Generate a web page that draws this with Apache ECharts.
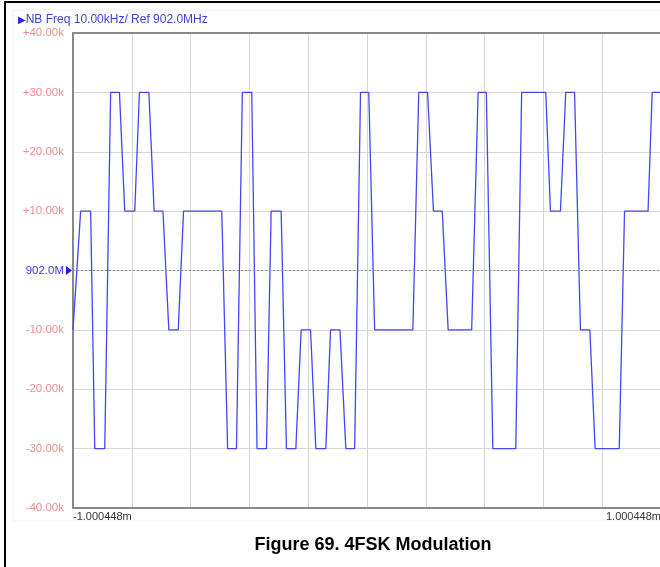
<!DOCTYPE html>
<html>
<head>
<meta charset="utf-8">
<script src="https://cdn.jsdelivr.net/npm/echarts@6/dist/echarts.min.js"></script>
<style>
  html, body { margin: 0; padding: 0; background: #fff; }
  #chart { width: 660px; height: 567px; }
</style>
</head>
<body>
<div id="chart"></div>
<script>
// time in screen divisions (0..10), freq offset in kHz
var timeDiv = [0, 0.03, 0.13, 0.30, 0.37, 0.54, 0.64, 0.79, 0.88, 1.05,
  1.13, 1.29, 1.38, 1.53, 1.63, 1.79, 1.88, 2.53, 2.63, 2.78,
  2.88, 3.04, 3.13, 3.29, 3.37, 3.54, 3.63, 3.79, 3.88, 4.04,
  4.13, 4.30, 4.38, 4.54, 4.64, 4.79, 4.89, 5.03, 5.13, 5.78,
  5.88, 6.03, 6.13, 6.28, 6.38, 6.78, 6.89, 7.03, 7.14, 7.53,
  7.63, 8.04, 8.12, 8.29, 8.38, 8.53, 8.63, 8.79, 8.88, 9.29,
  9.38, 9.78, 9.85, 10];
var freqK = [-10, -10, 10, 10, -30, -30, 30, 30, 10, 10,
  30, 30, 10, 10, -10, -10, 10, 10, -30, -30,
  30, 30, -30, -30, 10, 10, -30, -30, -10, -10,
  -30, -30, -10, -10, -30, -30, 30, 30, -10, -10,
  30, 30, 10, 10, -10, -10, 30, 30, -30, -30,
  30, 30, 10, 10, 30, 30, -10, -10, -30, -30,
  10, 10, 30, 30];

var yTickValues = [-40, -30, -20, -10, 0, 10, 20, 30, 40];
var yTickLabels = ['-40.00k', '-30.00k', '-20.00k', '-10.00k', '902.0M',
  '+10.00k', '+20.00k', '+30.00k', '+40.00k'];
var xTickLabels = ['-1.000448m', '1.000448m'];
var headerText = 'NB Freq 10.00kHz/ Ref 902.0MHz';
var captionText = 'Figure 69. 4FSK Modulation';

var chart = echarts.init(document.getElementById('chart'));

var pts = timeDiv.map(function (t, i) { return [t, freqK[i]]; });

var option = {
  animation: false,
  backgroundColor: '#fff',
  title: [{
    text: '{tri|▶}{t|' + headerText + '}',
    left: 13, top: 9,
    textStyle: {
      fontWeight: 'normal',
      rich: {
        tri: { fontFamily: 'DejaVu Sans', fontSize: 10, color: '#2a2ae0', fontWeight: 'normal' },
        t: { fontFamily: 'Liberation Sans', fontSize: 12, color: '#3a46d6', fontWeight: 'normal' }
      }
    }
  }, {
    text: captionText,
    left: 368, top: 531, textAlign: 'center',
    textStyle: { fontFamily: 'Liberation Sans', fontSize: 18, fontWeight: 'bold', color: '#000' }
  }],
  grid: { left: 73, top: 33, width: 588, height: 475, containLabel: false, outerBoundsMode: 'none' },
  xAxis: [{
    type: 'value', min: 0, max: 10, interval: 1,
    axisLine: { show: true, onZero: false, lineStyle: { color: '#888', width: 2 } },
    axisTick: { show: false },
    splitLine: { show: true, lineStyle: { color: '#d6d6d6', width: 1 } },
    axisLabel: {
      show: true, margin: 3, color: '#333',
      fontFamily: 'Liberation Sans', fontSize: 11,
      showMinLabel: true, showMaxLabel: true,
      alignMinLabel: 'left', alignMaxLabel: 'right',
      formatter: function (v) {
        if (v === 0) return xTickLabels[0];
        if (v === 10) return xTickLabels[1];
        return '';
      }
    }
  }, {
    type: 'value', position: 'top', min: 0, max: 10,
    axisLine: { show: true, onZero: false, lineStyle: { color: '#888', width: 2 } },
    axisTick: { show: false }, axisLabel: { show: false }, splitLine: { show: false }
  }],
  yAxis: {
    type: 'value', min: -40, max: 40, interval: 10,
    axisLine: { show: true, onZero: false, lineStyle: { color: '#888', width: 2 } },
    axisTick: { show: false },
    splitLine: { show: true, lineStyle: { color: '#d6d6d6', width: 1 } },
    axisLabel: {
      margin: 9, fontFamily: 'Liberation Sans', fontSize: 11.5,
      color: function (v) { return Number(v) === 0 ? '#3a3af0' : '#f28c8c'; },
      formatter: function (v) {
        var i = yTickValues.indexOf(v);
        return i >= 0 ? yTickLabels[i] : '';
      }
    }
  },
  series: [{
    type: 'line',
    data: pts,
    showSymbol: false,
    smooth: false,
    lineStyle: { color: '#4646f2', width: 1.3 },
    markLine: {
      silent: true, symbol: 'none', label: { show: false },
      lineStyle: { color: '#8c8c8c', type: [2, 2], width: 1 },
      data: [{ yAxis: 0 }]
    },
    markPoint: {
      silent: true,
      symbol: 'path://M0,0L8,5L0,10Z',
      symbolSize: [6, 9],
      symbolOffset: [-4, 0],
      itemStyle: { color: '#2020e8' },
      label: { show: false },
      data: [{ coord: [0, 0] }]
    }
  }],
  graphic: [
    { type: 'rect', silent: true, z: -1,
      shape: { x: 13, y: 10, width: 660, height: 511 },
      style: { fill: 'none', stroke: '#f2f2f2', lineWidth: 1 } },
    { type: 'line', silent: true,
      shape: { x1: 5, y1: 2, x2: 5, y2: 567 },
      style: { stroke: '#000', lineWidth: 2 } },
    { type: 'line', silent: true,
      shape: { x1: 4, y1: 2, x2: 660, y2: 2 },
      style: { stroke: '#000', lineWidth: 2 } }
  ]
};

chart.setOption(option);
</script>
</body>
</html>
